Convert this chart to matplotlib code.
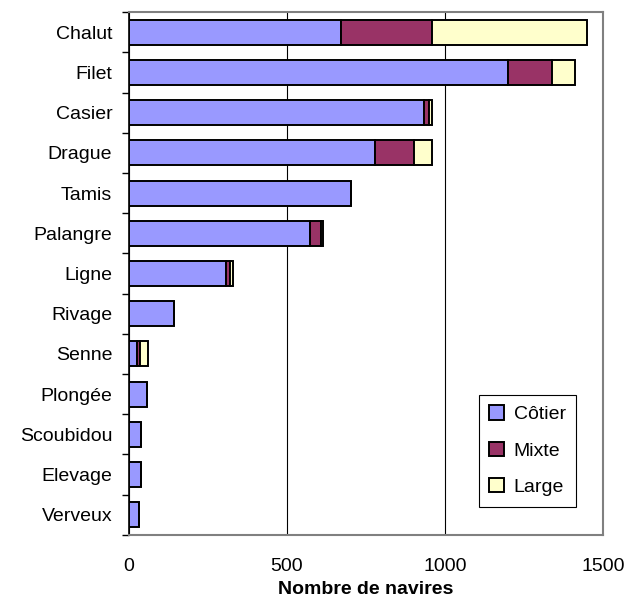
import matplotlib.pyplot as plt
import numpy as np
from matplotlib.ticker import FixedLocator

plt.rcParams['font.family'] = ['Liberation Sans', 'DejaVu Sans']

engins = ["Chalut", "Filet", "Casier", "Drague", "Tamis", "Palangre", "Ligne",
          "Rivage", "Senne", "Plongée", "Scoubidou", "Elevage", "Verveux"]
cotier = [670, 1199, 932, 777, 702, 572, 308, 143, 27, 56, 37, 37, 31]
mixte = [288, 139, 18, 124, 0, 36, 12, 0, 9, 0, 0, 0, 0]
large = [490, 74, 9, 56, 0, 5, 8, 0, 25, 0, 0, 0, 0]

series = ["Côtier", "Mixte", "Large"]
couleurs = ["#9999FF", "#993366", "#FFFFCC"]

fig = plt.figure(figsize=(6.29, 6.07), dpi=100)
ax = fig.add_axes([0.205, 0.119, 0.754, 0.861])

y = np.arange(len(engins))
gauche = np.zeros(len(engins))
for nom, vals, c in zip(series, [cotier, mixte, large], couleurs):
    vals = np.array(vals, dtype=float)
    ax.barh(y, vals, left=gauche, height=0.62, color=c, edgecolor="black",
            linewidth=1.4, label=nom, zorder=3)
    gauche += vals

ax.set_xlim(0, 1500)
ax.set_ylim(len(engins) - 0.5, -0.5)
ax.set_xticks([0, 500, 1000, 1500])
ax.set_yticks(y)
ax.set_yticklabels(engins)
ax.yaxis.set_minor_locator(FixedLocator(np.arange(-0.5, len(engins), 1)))
ax.tick_params(axis="y", which="major", length=0, pad=12, labelsize=14)
ax.tick_params(axis="y", which="minor", length=5, width=1, direction="out")
ax.tick_params(axis="x", length=0, pad=17, labelsize=14)

ax.grid(axis="x", color="black", linewidth=0.8, zorder=0)
for s in ["top", "right", "bottom"]:
    ax.spines[s].set_color("#808080")
    ax.spines[s].set_linewidth(1.5)
ax.spines["left"].set_color("black")
ax.spines["left"].set_linewidth(1.2)

ax.set_xlabel("Nombre de navires", fontsize=14, fontweight="bold", labelpad=4)

leg = ax.legend(loc="lower right", bbox_to_anchor=(0.964, 0.035), fontsize=14,
                handlelength=0.75, handleheight=0.75, handletextpad=0.5,
                labelspacing=0.95, borderpad=0.55, fancybox=False, framealpha=1,
                edgecolor="black")
leg.get_frame().set_linewidth(0.8)

fig.savefig("out.png", dpi=100)
